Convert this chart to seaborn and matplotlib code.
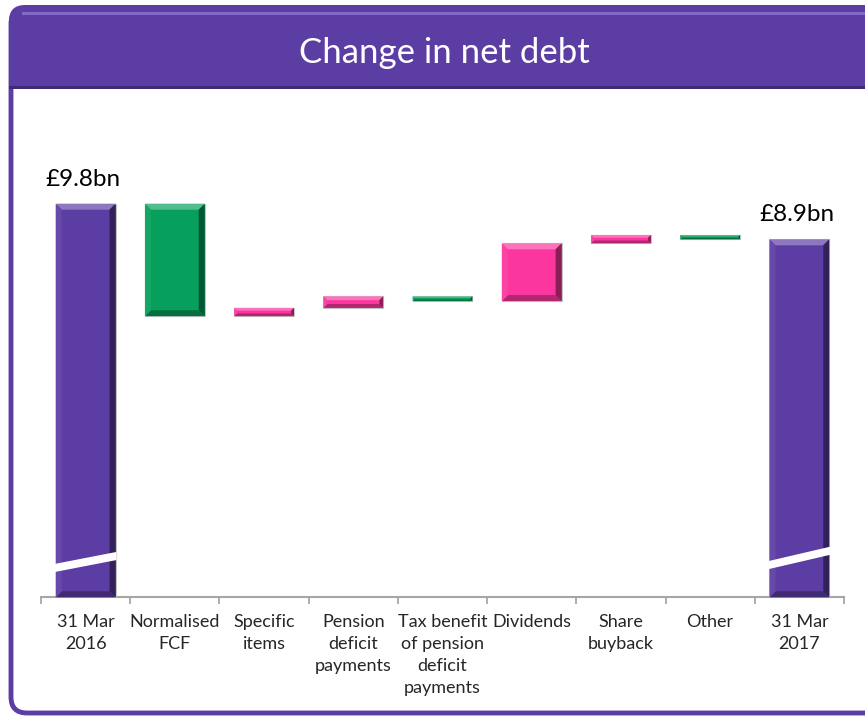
import matplotlib
matplotlib.use("Agg")
import matplotlib.pyplot as plt
import matplotlib.colors as mcolors
import seaborn as sns
import numpy as np
from matplotlib.patches import FancyBboxPatch, Rectangle, Polygon
from matplotlib.transforms import IdentityTransform, blended_transform_factory

# data (GBP bn)
categories = ["31 Mar\n2016", "Normalised\nFCF", "Specific\nitems", "Pension\ndeficit\npayments",
              "Tax benefit\nof pension\ndeficit\npayments", "Dividends", "Share\nbuyback", "Other",
              "31 Mar\n2017"]
opening = 9.8
movements = [-2.84, 0.21, 0.29, -0.12, 1.46, 0.21, -0.11]
closing = 8.9
total_labels = ["£9.8bn", "£8.9bn"]

PURPLE = "#5C3DA3"
GREEN = "#06A05C"
PINK = "#FB379F"
FLOOR = -0.14  # broken axis: totals drawn down to the axis line

# waterfall bottoms / heights
running = np.cumsum([opening] + movements)
bottoms = [FLOOR]
heights = [opening - FLOOR]
colors = [PURPLE]
for i, m in enumerate(movements):
    lo = min(running[i], running[i + 1])
    bottoms.append(lo)
    heights.append(abs(m))
    colors.append(GREEN if m < 0 else PINK)
bottoms.append(FLOOR)
heights.append(closing - FLOOR)
colors.append(PURPLE)


def mix(c, other, t):
    a = np.array(mcolors.to_rgb(c))
    b = np.array(mcolors.to_rgb(other))
    return tuple(a * (1 - t) + b * t)


sns.set_theme(style="white")
plt.rcParams["font.family"] = ["Lato", "DejaVu Sans"]

W, H = 865, 716
fig = plt.figure(figsize=(W / 100, H / 100), dpi=100)
fig.patch.set_facecolor("white")

# frame + header band (pixel coords, origin bottom-left)
px = IdentityTransform()
frame = FancyBboxPatch((11, 716 - 713), 900, 713 - 8, boxstyle="round,pad=0,rounding_size=16",
                       transform=px, facecolor="none", edgecolor=PURPLE, linewidth=3.5, zorder=0)
fig.patches.append(frame)
header = FancyBboxPatch((9, 716 - 88), 900, 88 - 5, boxstyle="round,pad=0,rounding_size=16",
                        transform=px, facecolor=PURPLE, edgecolor="none", zorder=1)
fig.patches.append(header)
fig.patches.append(Rectangle((9, 716 - 88), 900, 30, transform=px, facecolor=PURPLE,
                             edgecolor="none", zorder=1))
fig.patches.append(Rectangle((22, 716 - 15), 900, 3, transform=px, facecolor="#8468C8",
                             edgecolor="none", zorder=2))
fig.patches.append(Rectangle((9, 716 - 89), 900, 3, transform=px, facecolor="#3E2A75",
                             edgecolor="none", zorder=2))
fig.text(444 / W, 1 - 53 / H, "Change in net debt", color="white", fontsize=25,
         ha="center", va="center")

ax = fig.add_axes([41 / W, 1 - 597.3 / H, 803 / W, (597.3 - 120) / H])
ax.set_facecolor("none")
ax.set_zorder(5)

sns.barplot(x=categories, y=heights, bottom=bottoms, color=PURPLE, width=0.67,
            errorbar=None, ax=ax, zorder=3)
for patch, c in zip(ax.patches, colors):
    patch.set_facecolor(c)
    patch.set_edgecolor("#C4C4C4")
    patch.set_linewidth(0.8)

ax.set_xlim(-0.5, len(categories) - 0.5)
ax.set_ylim(FLOOR, 9.8 + (203.7 - 120) / 39.6)

# bevel shading, derived from each bar's pixel extent
fig.canvas.draw()
bars = list(ax.patches)
for patch, c in zip(bars, colors):
    bb = patch.get_window_extent()
    x0, x1, y0, y1 = bb.x0, bb.x1, bb.y0, bb.y1
    d = min(6.0, (y1 - y0) / 3.0)
    faces = [
        ([(x0, y1), (x1, y1), (x1 - d, y1 - d), (x0 + d, y1 - d)], mix(c, "white", 0.3)),
        ([(x0, y0), (x1, y0), (x1 - d, y0 + d), (x0 + d, y0 + d)], mix(c, "black", 0.3)),
        ([(x1, y0), (x1, y1), (x1 - d, y1 - d), (x1 - d, y0 + d)], mix(c, "black", 0.45)),
        ([(x0, y0), (x0, y1), (x0 + d, y1 - d), (x0 + d, y0 + d)], mix(c, "white", 0.06)),
    ]
    for pts, fc in faces:
        ax.add_patch(Polygon(pts, closed=True, transform=px, facecolor=fc, edgecolor="none",
                             zorder=3.5, clip_on=False))

# axis break stripes on the total bars
tb = blended_transform_factory(ax.transData, ax.transAxes)
for idx, y_left, rise in [(0, 0.053, 0.025), (len(categories) - 1, 0.059, 0.030)]:
    p = bars[idx]
    x0, x1 = p.get_x() - 0.01, p.get_x() + p.get_width() + 0.01
    stripe = Polygon([(x0, y_left), (x1, y_left + rise), (x1, y_left + rise + 0.017),
                      (x0, y_left + 0.017)],
                     closed=True, transform=tb, facecolor="white", edgecolor="none", zorder=4)
    ax.add_patch(stripe)

# total labels
for idx, lab in zip([0, len(categories) - 1], total_labels):
    p = bars[idx]
    ax.annotate(lab, (p.get_x() + p.get_width() / 2, p.get_y() + p.get_height()),
                xytext=(-2, 13), textcoords="offset points", ha="center", va="baseline",
                fontsize=17.5, color="black")

for s in ["top", "right", "left"]:
    ax.spines[s].set_visible(False)
ax.spines["bottom"].set_color("#A6A6A6")
ax.spines["bottom"].set_linewidth(1.5)
ax.set_yticks([])
ax.set_xticks(np.arange(-0.5, len(categories), 1.0), minor=True)
ax.tick_params(axis="x", which="minor", bottom=True, length=5, width=1.3, color="#A6A6A6",
               direction="out")
ax.tick_params(axis="x", which="major", bottom=False, length=0, pad=12, labelsize=13)
plt.setp(ax.get_xticklabels(), linespacing=1.45, va="top")
ax.set_ylabel("")

fig.savefig("out.png", dpi=100)
